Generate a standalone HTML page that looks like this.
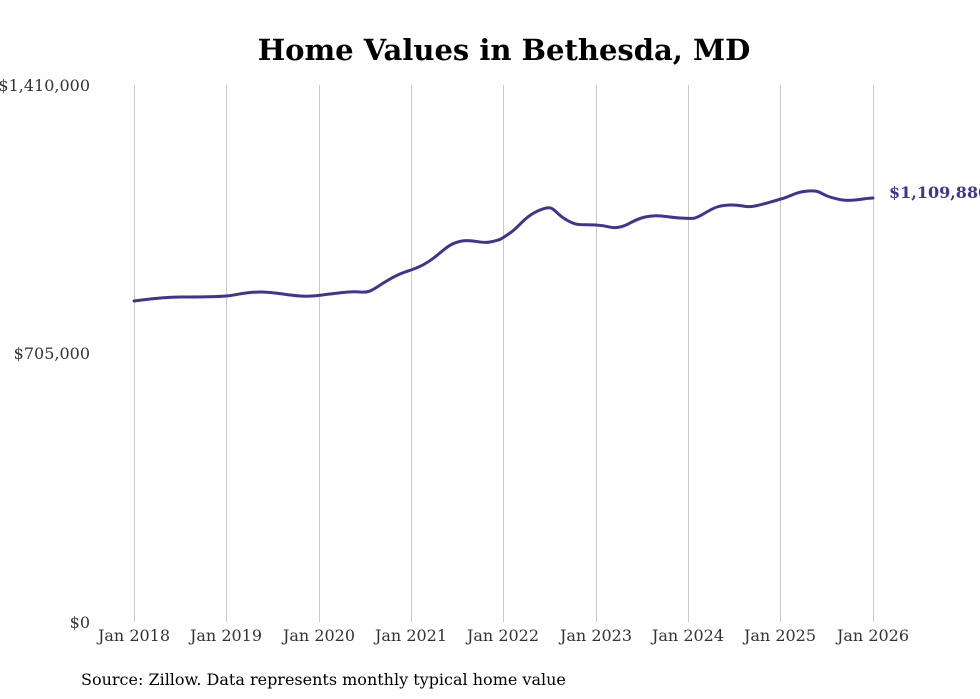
<!DOCTYPE html>
<html><head><meta charset="utf-8"><style>
body{margin:0;background:#fff;}
svg{display:block;}
</style></head><body>
<svg width="980" height="699" viewBox="0 0 980 699" xmlns="http://www.w3.org/2000/svg">
<rect width="980" height="699" fill="#fff"/>
<text x="504" y="60" text-anchor="middle" font-family="DejaVu Serif, Liberation Serif, serif" font-weight="bold" font-size="29" fill="#000">Home Values in Bethesda, MD</text>
<g stroke="#c8c8c8" stroke-width="1">
<line x1="134.5" y1="85" x2="134.5" y2="622"/>
<line x1="226.5" y1="85" x2="226.5" y2="622"/>
<line x1="319.5" y1="85" x2="319.5" y2="622"/>
<line x1="411.5" y1="85" x2="411.5" y2="622"/>
<line x1="503.5" y1="85" x2="503.5" y2="622"/>
<line x1="596.5" y1="85" x2="596.5" y2="622"/>
<line x1="688.5" y1="85" x2="688.5" y2="622"/>
<line x1="780.5" y1="85" x2="780.5" y2="622"/>
<line x1="873.5" y1="85" x2="873.5" y2="622"/>
</g>
<g font-family="DejaVu Serif, Liberation Serif, serif" font-size="16" fill="#333">
<text x="90" y="91" text-anchor="end">$1,410,000</text>
<text x="90" y="359" text-anchor="end">$705,000</text>
<text x="90" y="628" text-anchor="end">$0</text>
<g text-anchor="middle">
<text x="134" y="641">Jan 2018</text>
<text x="226" y="641">Jan 2019</text>
<text x="319" y="641">Jan 2020</text>
<text x="411" y="641">Jan 2021</text>
<text x="503" y="641">Jan 2022</text>
<text x="596" y="641">Jan 2023</text>
<text x="688" y="641">Jan 2024</text>
<text x="780" y="641">Jan 2025</text>
<text x="873" y="641">Jan 2026</text>
</g>
</g>
<path fill="none" stroke="#3f3492" stroke-width="3" stroke-linejoin="round" stroke-linecap="round"
d="M134,301 C150,299 165,297 180,297 S215,297 226,296 S245,292 260,292 S285,295 300,296 S320,295 330,294 S350,291 360,292 S372,290 385,282 S405,272 411,270 S425,265 435,257 S450,243 462,241 S480,244 490,242 S500,240 510,233 S525,216 540,210 S552,211 565,219 S580,224 596,225 S610,229 620,227 S632,220 645,217 S665,217 680,218 S695,219 705,213 S720,205 732,205 S745,208 755,206 S770,202 781,199 S795,192 808,191 S820,194 830,197 S845,201 855,200 S868,198 873,198"/>
<text x="889" y="198" font-family="DejaVu Serif, Liberation Serif, serif" font-weight="bold" font-size="16" fill="#3f3492">$1,109,880</text>
<text x="81" y="685" font-family="DejaVu Serif, Liberation Serif, serif" font-size="16" fill="#000">Source: Zillow. Data represents monthly typical home value</text>
</svg>
</body></html>
